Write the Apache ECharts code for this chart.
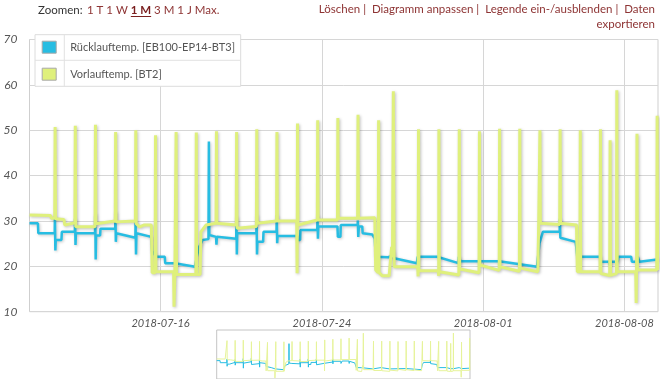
<!DOCTYPE html>
<html>
<head>
<meta charset="utf-8">
<script src="https://cdn.jsdelivr.net/npm/echarts@6/dist/echarts.min.js"></script>
<style>
html,body{margin:0;padding:0;background:#fff;}
#chart{width:671px;height:379px;}
</style>
</head>
<body>
<div id="chart"></div>
<script>
// ---- Data (times are 2018, format MM-DD HH:mm) ----
const seriesNames = ['Rücklauftemp. [EB100-EP14-BT3]', 'Vorlauftemp. [BT2]'];
const xTickLabels = ['07-16 00:00', '07-24 00:00', '08-01 00:00', '08-08 00:00'];
const xRange = ['07-09 12:00', '08-09 16:00'];
const yTicks = [10, 20, 30, 40, 50, 60, 70];

const rlTimes = [
'07-09 12:00','07-09 22:00','07-09 22:30','07-10 18:00','07-10 18:15','07-10 18:45','07-10 19:15','07-11 02:00','07-11 02:30',
'07-11 18:00','07-11 18:15','07-11 18:45','07-11 19:15','07-12 18:00','07-12 18:15','07-12 18:45','07-12 19:15','07-13 00:00',
'07-13 00:30','07-13 18:00','07-13 18:15','07-13 18:45','07-13 19:15','07-14 18:00','07-14 18:15','07-14 18:45','07-14 19:15',
'07-15 13:00','07-15 14:00','07-15 19:00','07-16 05:00','07-16 05:30','07-16 17:00','07-16 17:30','07-17 17:00','07-17 19:00',
'07-17 22:00','07-18 02:00','07-18 09:00','07-18 09:30','07-18 10:00','07-18 18:00','07-18 18:30','07-18 19:00','07-19 18:00',
'07-19 18:15','07-19 18:45','07-19 19:15','07-20 18:00','07-20 18:15','07-20 18:45','07-20 19:15','07-21 02:00','07-21 02:30',
'07-21 18:00','07-21 18:15','07-21 18:45','07-21 19:15','07-22 18:30','07-22 19:00','07-22 22:00','07-22 22:30','07-23 18:30',
'07-23 18:45','07-23 19:15','07-23 19:45','07-24 18:30','07-24 19:00','07-24 22:00','07-24 22:30','07-25 18:30','07-25 18:45',
'07-25 19:15','07-25 20:00','07-26 00:00','07-26 00:30','07-26 12:00','07-26 15:00','07-26 16:00','07-27 07:00','07-27 11:00',
'07-27 12:00','07-27 14:00','07-28 17:00','07-28 18:00','07-29 17:00','07-29 18:00','07-30 18:30','07-30 19:00','07-30 21:00',
'08-01 19:00','08-03 16:00','08-03 19:00','08-03 23:00','08-04 19:00','08-04 19:15','08-04 19:45','08-05 14:00','08-05 16:00',
'08-06 19:00','08-06 19:30','08-07 06:00','08-07 06:30','08-07 08:00','08-07 16:00','08-07 17:00','08-08 08:00','08-08 09:00',
'08-08 15:00','08-08 16:00','08-08 18:00','08-09 15:00','08-09 16:00'];
const rlValues = [
29.5,29.5,27.3,27.3,31.0,23.5,25.8,25.8,27.6,
27.6,30.5,24.7,27.3,27.3,31.6,21.5,26.8,26.8,
28.3,28.3,32.0,25.4,27.3,26.3,30.0,22.6,27.3,
26.5,23.3,22.1,22.1,20.7,20.7,21.0,19.9,22.0,
24.3,25.8,26.0,47.5,26.9,26.5,24.8,26.5,26.1,
31.0,22.6,27.3,27.3,31.3,22.6,25.4,25.4,27.6,
27.6,31.3,25.1,26.7,26.7,25.8,25.8,28.0,28.0,
31.3,26.1,28.8,28.8,26.5,26.5,29.1,29.1,30.1,
26.5,28.8,28.8,27.3,27.0,26.1,22.1,22.0,22.3,
23.6,21.8,20.7,22.1,22.1,21.7,20.7,22.1,21.1,
21.1,19.9,25.1,27.6,27.6,30.5,26.3,25.4,22.1,
22.1,21.0,21.0,20.3,21.0,21.0,22.1,22.1,21.0,
21.0,22.1,21.0,21.5,21.5];

const vlTimes = [
'07-09 12:00','07-10 13:00','07-10 14:00','07-10 18:00','07-10 18:30','07-10 19:00','07-11 05:00','07-11 06:00','07-11 18:00',
'07-11 18:30','07-11 19:00','07-12 18:00','07-12 18:30','07-12 19:00','07-13 18:00','07-13 18:30','07-13 19:00','07-14 18:00',
'07-14 18:30','07-14 19:00','07-14 23:00','07-15 04:00','07-15 13:00','07-15 14:00','07-15 17:30','07-15 18:00','07-15 18:30',
'07-16 15:30','07-16 16:00','07-16 17:00','07-16 18:00','07-16 18:30','07-16 19:00','07-17 18:00','07-17 18:30','07-17 19:00',
'07-17 23:00','07-18 00:00','07-18 06:00','07-18 18:00','07-18 18:30','07-18 19:00','07-19 18:00','07-19 18:30','07-19 19:00',
'07-20 18:00','07-20 18:30','07-20 19:00','07-21 18:00','07-21 18:30','07-21 19:00','07-22 18:00','07-22 18:30','07-22 19:00',
'07-22 19:30','07-23 18:30','07-23 19:00','07-23 19:30','07-24 18:30','07-24 19:00','07-24 19:30','07-25 18:30','07-25 19:00',
'07-25 19:30','07-26 15:00','07-26 16:00','07-26 19:00','07-26 19:30','07-26 20:00','07-27 00:00','07-27 08:00','07-27 11:00',
'07-27 12:00','07-27 13:00','07-27 14:00','07-28 18:00','07-28 18:30','07-28 19:00','07-28 19:30','07-29 18:30','07-29 19:00',
'07-29 19:15','07-29 19:45','07-30 19:00','07-30 19:30','07-30 20:00','07-31 19:00','07-31 19:30','07-31 20:00','08-01 19:00',
'08-01 19:30','08-01 20:00','08-02 19:00','08-02 19:30','08-02 20:00','08-03 17:00','08-03 18:00','08-03 19:00','08-03 19:30',
'08-03 20:00','08-04 19:00','08-04 19:30','08-04 20:00','08-05 15:00','08-05 16:00','08-05 19:00','08-05 19:30','08-05 20:00',
'08-06 19:00','08-06 19:30','08-06 20:00','08-07 06:30','08-07 07:00','08-07 07:30','08-07 14:30','08-07 15:00','08-07 15:30',
'08-08 13:30','08-08 14:00','08-08 14:30','08-08 15:00','08-08 15:30','08-09 14:30','08-09 15:00','08-09 15:30','08-09 16:00'];
const vlValues = [
31.3,31.2,30.6,30.6,50.7,30.5,30.3,29.1,29.6,
51.0,28.7,28.7,51.2,29.4,30.0,49.6,29.8,30.0,
50.0,29.4,28.7,29.1,29.1,18.6,18.6,48.9,18.8,
18.8,11.1,18.2,18.2,49.6,18.2,18.2,49.5,18.2,
18.2,27.6,29.1,29.5,49.8,29.5,29.1,49.6,28.4,
28.8,50.2,29.5,30.0,49.6,30.0,30.0,18.5,51.5,
29.1,30.2,52.2,30.2,30.2,52.7,30.6,30.6,53.4,
30.6,30.7,19.2,18.6,52.2,18.6,17.9,17.9,24.3,
22.0,58.6,19.9,19.9,17.8,50.2,19.0,19.0,17.9,
50.2,18.8,18.1,50.2,19.4,18.6,49.8,20.3,19.1,
50.3,19.9,18.9,50.3,19.6,18.8,29.5,29.5,50.0,
29.5,29.2,50.2,29.5,29.1,18.8,18.8,50.0,18.8,
18.8,50.2,18.4,18.0,47.8,18.0,18.4,58.8,18.8,
18.8,11.9,19.2,49.2,19.2,19.2,53.2,19.2,19.2];

// ---- helpers ----
function toMs(s) {
  const m = s.match(/(\d+)-(\d+) (\d+):(\d+)/);
  return Date.UTC(2018, +m[1] - 1, +m[2], +m[3], +m[4]);
}
function pairs(times, values) { return times.map((t, i) => [toMs(t), values[i]]); }
const rlData = pairs(rlTimes, rlValues);
const vlData = pairs(vlTimes, vlValues);
const tickMs = xTickLabels.map(toMs);
const xMin = toMs(xRange[0]), xMax = toMs(xRange[1]);

const BLUE = '#27bde2';
const YELLOW = '#dff07c';
const LINK = '#8e3434';
const FONT = 'Lato, "Open Sans", sans-serif';
const HFONT = '11.5px ' + FONT;
const HFONTB = 'bold 11.5px ' + FONT;

// text widths for the zoom selector line (to place the underline)
const ctx = document.createElement('canvas').getContext('2d');
function tw(t, f) { ctx.font = f; return ctx.measureText(t).width; }
const zX0 = 87;
const zA = '1 T 1 W ', zB = '1 M', zC = ' 3 M 1 J Max.';
const zBx = zX0 + tw(zA, HFONT);
const zBw = tw(zB, HFONTB);
const zCx = zBx + zBw;

const chart = echarts.init(document.getElementById('chart'), null, {renderer: 'canvas'});

const option = {
  animation: false,
  backgroundColor: '#fff',
  color: [BLUE, YELLOW],
  grid: [
    {left: 29.5, right: 13, top: 39.5, bottom: 67.3, show: true, borderColor: '#cfcfcf', borderWidth: 1, containLabel: false},
    {left: 216.7, top: 330, width: 253.3, height: 50, show: true, borderColor: '#c4c4c4', borderWidth: 1}
  ],
  legend: {
    data: seriesNames,
    orient: 'vertical',
    left: 41.7,
    top: 40.7,
    itemWidth: 14,
    itemHeight: 12,
    itemGap: 14,
    padding: 0,
    icon: 'rect',
    selectedMode: false,
    z: 20,
    itemStyle: {borderColor: '#a9a9a9', borderWidth: 1},
    textStyle: {fontFamily: FONT, fontSize: 11, color: '#555', padding: [0, 0, 0, 9]}
  },
  xAxis: [
    {
      type: 'value', gridIndex: 0, min: xMin, max: xMax,
      axisLine: {show: false},
      axisTick: {show: false, customValues: tickMs},
      axisLabel: {
        customValues: tickMs, margin: 6,
        fontFamily: FONT, fontStyle: 'italic', fontSize: 11, color: '#555',
        formatter: v => new Date(v).toISOString().slice(0, 10)
      },
      splitLine: {show: true, lineStyle: {color: '#d6d6d6', width: 1}}
    },
    {
      type: 'value', gridIndex: 1, min: xMin, max: xMax, show: false,
      splitLine: {show: false}
    }
  ],
  yAxis: [
    {
      type: 'value', gridIndex: 0, min: yTicks[0], max: yTicks[yTicks.length - 1], interval: 10,
      axisLine: {show: false}, axisTick: {show: false},
      axisLabel: {margin: 12, fontFamily: FONT, fontStyle: 'italic', fontSize: 12, color: '#555'},
      splitLine: {show: true, lineStyle: {color: '#d6d6d6', width: 1}}
    },
    {type: 'value', gridIndex: 1, min: 10, max: 62, show: false, splitLine: {show: false}}
  ],
  series: [
    {
      name: seriesNames[0], type: 'line', xAxisIndex: 0, yAxisIndex: 0, data: rlData,
      showSymbol: false, symbol: 'none', z: 2,
      lineStyle: {color: BLUE, width: 2.5, shadowColor: 'rgba(0,0,0,0.22)', shadowBlur: 3, shadowOffsetX: 1, shadowOffsetY: 1}
    },
    {
      name: seriesNames[1], type: 'line', xAxisIndex: 0, yAxisIndex: 0, data: vlData,
      showSymbol: false, symbol: 'none', z: 3,
      lineStyle: {color: YELLOW, width: 3, shadowColor: 'rgba(0,0,0,0.25)', shadowBlur: 3, shadowOffsetX: 1, shadowOffsetY: 1}
    },
    {
      name: seriesNames[0], type: 'line', xAxisIndex: 1, yAxisIndex: 1, data: rlData,
      showSymbol: false, symbol: 'none', z: 2, silent: true,
      lineStyle: {color: BLUE, width: 1}
    },
    {
      name: seriesNames[1], type: 'line', xAxisIndex: 1, yAxisIndex: 1, data: vlData,
      showSymbol: false, symbol: 'none', z: 3, silent: true,
      lineStyle: {color: '#e6f39a', width: 1}
    }
  ],
  graphic: [
    // legend box
    {type: 'rect', z: 10, shape: {x: 35, y: 34.7, width: 205.7, height: 51.6},
     style: {fill: '#fff', stroke: '#dcdcdc', lineWidth: 1}},
    {type: 'line', z: 11, shape: {x1: 64.3, y1: 34.7, x2: 64.3, y2: 86.3}, style: {stroke: '#e2e2e2', lineWidth: 1}},
    {type: 'line', z: 11, shape: {x1: 35, y1: 60.3, x2: 240.7, y2: 60.3}, style: {stroke: '#e2e2e2', lineWidth: 1}},
    // header
    {type: 'text', z: 20, x: 38, y: 10, style: {text: 'Zoomen:', font: HFONT, fill: '#333', verticalAlign: 'middle'}},
    {type: 'text', z: 20, x: zX0, y: 10, style: {text: zA, font: HFONT, fill: LINK, verticalAlign: 'middle'}},
    {type: 'text', z: 20, x: zBx, y: 10, style: {text: zB, font: HFONTB, fill: '#7a1f1f', verticalAlign: 'middle'}},
    {type: 'line', z: 20, shape: {x1: zBx, y1: 16.5, x2: zBx + zBw, y2: 16.5}, style: {stroke: '#7a1f1f', lineWidth: 1}},
    {type: 'text', z: 20, x: zCx, y: 10, style: {text: zC, font: HFONT, fill: LINK, verticalAlign: 'middle'}},
    {type: 'text', z: 20, x: 655, y: 9, style: {text: 'Löschen |  Diagramm anpassen |  Legende ein-/ausblenden |  Daten', font: HFONT, fill: LINK, align: 'right', verticalAlign: 'middle'}},
    {type: 'text', z: 20, x: 655, y: 24, style: {text: 'exportieren', font: HFONT, fill: LINK, align: 'right', verticalAlign: 'middle'}}
  ]
};
chart.setOption(option);
</script>
</body>
</html>
